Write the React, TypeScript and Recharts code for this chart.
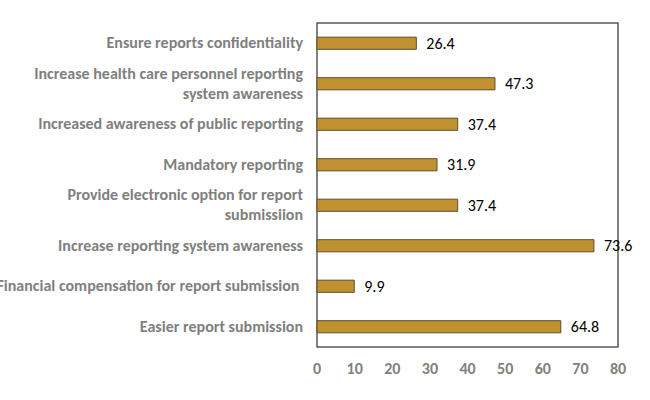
import * as R from 'recharts'
import { BarChart, Bar, XAxis, YAxis, LabelList } from 'recharts'

const categories = [
  'Ensure reports confidentiality',
  'Increase health care personnel reporting|system awareness',
  'Increased awareness of public reporting',
  'Mandatory reporting',
  'Provide electronic option for report|submissiion',
  'Increase reporting system awareness',
  'Financial compensation for report submission ',
  'Easier report submission',
]
const values = [26.4, 47.3, 37.4, 31.9, 37.4, 73.6, 9.9, 64.8]
const xTicks = [0, 10, 20, 30, 40, 50, 60, 70, 80]

const data = categories.map((c, i) => ({ name: c, value: values[i] }))

const FONT = 'Carlito, Lato, sans-serif'
const BORDER = '#404040'

const usePlotAreaSafe: () => any = (R as any).usePlotArea || (R as any).useOffset || (() => null)

function PlotFrame() {
  const area = usePlotAreaSafe()
  if (!area) return null
  const x = area.x ?? area.left
  const y = area.y ?? area.top
  return (
    <rect x={x} y={y} width={area.width} height={area.height} fill="none" stroke={BORDER} strokeWidth={1.3} />
  )
}

function CategoryTick({ x, y, payload }: any) {
  const lines = String(payload.value).split('|')
  const lh = 20
  const start = -((lines.length - 1) * lh) / 2
  return (
    <text
      x={x - 6}
      y={y}
      textAnchor="end"
      fill="#7f7f7f"
      fontSize={16}
      fontWeight="bold"
      fontFamily={FONT}
      style={{ whiteSpace: 'pre' }}
    >
      {lines.map((l, i) => (
        <tspan key={i} x={x - 6} dy={i === 0 ? start + 5 : lh}>
          {l}
        </tspan>
      ))}
    </text>
  )
}

export default function App() {
  return (
    <div style={{ position: 'absolute', left: 0, top: 0, background: '#fff' }}>
      <BarChart
        width={650}
        height={400}
        data={data}
        layout="vertical"
        margin={{ top: 23, right: 32, left: 0, bottom: 23 }}
        barCategoryGap="65%"
      >
        <XAxis
          type="number"
          domain={[0, 80]}
          ticks={xTicks}
          axisLine={false}
          tickLine={false}
          height={30}
          tick={{ fill: '#808080', fontSize: 16, fontWeight: 'bold', fontFamily: FONT }}
          tickMargin={10}
        />
        <YAxis
          type="category"
          dataKey="name"
          width={317}
          axisLine={false}
          tickLine={false}
          interval={0}
          tick={<CategoryTick />}
        />
        <PlotFrame />
        <Bar dataKey="value" fill="#c0922f" stroke="#5b4e2e" strokeWidth={1} isAnimationActive={false}>
          <LabelList
            dataKey="value"
            position="right"
            offset={10}
            fill="#000"
            fontSize={16}
            fontFamily={FONT}
            formatter={(v: number) => v.toFixed(1)}
          />
        </Bar>
      </BarChart>
    </div>
  )
}
